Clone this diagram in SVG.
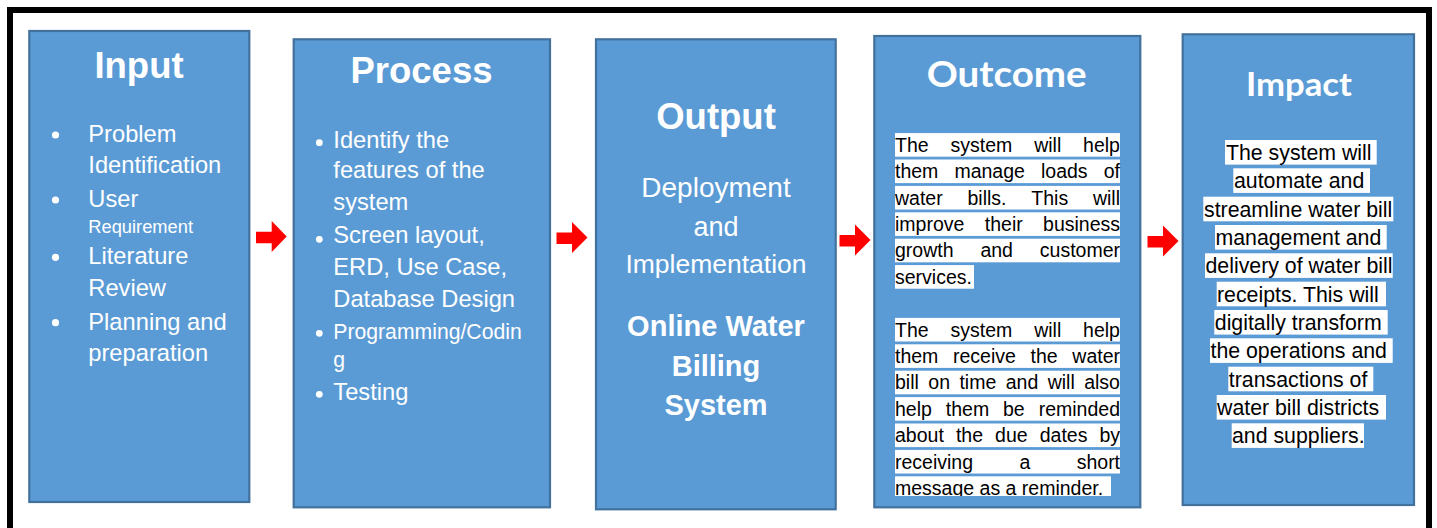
<svg xmlns="http://www.w3.org/2000/svg" width="1437" height="528" viewBox="0 0 1437 528">
<style>
.box{fill:#5b9bd5;stroke:#41719c;stroke-width:2.2}
.t{font-family:"Liberation Sans",Arial,sans-serif;fill:#fff}
.ttl{font-family:"Liberation Sans",Arial,sans-serif;font-weight:bold;font-size:36.5px;fill:#fff;text-anchor:middle}
.ttl2{font-family:Lato,"Open Sans",sans-serif;font-weight:bold;fill:#fff;text-anchor:middle}
.li{font-size:23.7px}
.bul{fill:#fff}
.oc{font-family:"Liberation Sans",Arial,sans-serif;font-size:19.5px;fill:#000}
.im{font-family:"Liberation Sans",Arial,sans-serif;font-size:21.3px;fill:#000}
.hl{fill:#fff}
.arr{fill:#ff0000}
</style>
<defs>
<clipPath id="ocClip"><rect x="880" y="120" width="250" height="376"/></clipPath>
</defs>
<rect x="10" y="10" width="1419" height="600" fill="#fff" stroke="#000" stroke-width="6"/>

<g id="input">
<rect class="box" x="29.3" y="31" width="220" height="471"/>
<text class="ttl" x="139" y="77.7">Input</text>
<circle class="bul" cx="55.5" cy="135" r="3.6"/>
<circle class="bul" cx="55.5" cy="200" r="3.6"/>
<circle class="bul" cx="55.5" cy="257.3" r="3.6"/>
<circle class="bul" cx="55.5" cy="322.7" r="3.6"/>
<text class="t li" x="88.3" y="141.7">Problem</text>
<text class="t li" x="88.3" y="173.3">Identification</text>
<text class="t li" x="88.3" y="206.7">User</text>
<text class="t" font-size="18.3" x="88.3" y="233.3">Requirement</text>
<text class="t li" x="88.3" y="264">Literature</text>
<text class="t li" x="88.3" y="296">Review</text>
<text class="t li" x="88.3" y="330">Planning and</text>
<text class="t li" x="88.3" y="360.7">preparation</text>
</g>

<g id="process">
<rect class="box" x="293.7" y="39.3" width="256.3" height="468"/>
<text class="ttl" x="421.5" y="83.3">Process</text>
<circle class="bul" cx="319.3" cy="142.7" r="3.4"/>
<circle class="bul" cx="319.3" cy="239.3" r="3.4"/>
<circle class="bul" cx="319.3" cy="333.3" r="3.4"/>
<circle class="bul" cx="319.3" cy="394.3" r="3.4"/>
<text class="t li" x="333.3" y="148.3">Identify the</text>
<text class="t li" x="333.3" y="178.3">features of the</text>
<text class="t li" x="333.3" y="210">system</text>
<text class="t li" x="333.3" y="243.3">Screen layout,</text>
<text class="t li" x="333.3" y="275">ERD, Use Case,</text>
<text class="t li" x="333.3" y="306.7">Database Design</text>
<text class="t" font-size="21.2" x="333.3" y="339.3">Programming/Codin</text>
<text class="t" font-size="21.2" x="333.3" y="366.7">g</text>
<text class="t li" x="333.3" y="400">Testing</text>
</g>

<g id="output">
<rect class="box" x="596" y="39.3" width="239.7" height="470"/>
<text class="ttl" x="716" y="129.3">Output</text>
<text class="t" font-size="28" text-anchor="middle" x="716" y="196.7">Deployment</text>
<text class="t" font-size="27" text-anchor="middle" x="716" y="236">and</text>
<text class="t" font-size="26.5" text-anchor="middle" x="716" y="272.7">Implementation</text>
<text class="t" font-size="29" font-weight="bold" text-anchor="middle" x="716" y="336">Online Water</text>
<text class="t" font-size="29" font-weight="bold" text-anchor="middle" x="716" y="376">Billing</text>
<text class="t" font-size="29" font-weight="bold" text-anchor="middle" x="716" y="415">System</text>
</g>

<g id="outcome">
<rect class="box" x="874.3" y="36" width="266" height="471.3"/>
<text class="ttl2" font-size="36" x="1006.7" y="86.7" textLength="160" lengthAdjust="spacingAndGlyphs">Outcome</text>
<g clip-path="url(#ocClip)">
<rect class="hl" x="895" y="133.1" width="225" height="23.6"/>
<rect class="hl" x="895" y="159.5" width="225" height="23.6"/>
<rect class="hl" x="895" y="185.9" width="225" height="23.6"/>
<rect class="hl" x="895" y="212.3" width="225" height="23.6"/>
<rect class="hl" x="895" y="238.7" width="225" height="23.6"/>
<rect class="hl" x="895" y="265.1" width="79" height="23.6"/>
<rect class="hl" x="895" y="317.9" width="225" height="23.6"/>
<rect class="hl" x="895" y="344.3" width="225" height="23.6"/>
<rect class="hl" x="895" y="370.7" width="225" height="23.6"/>
<rect class="hl" x="895" y="397.1" width="225" height="23.6"/>
<rect class="hl" x="895" y="423.5" width="225" height="23.6"/>
<rect class="hl" x="895" y="449.9" width="225" height="23.6"/>
<rect class="hl" x="895" y="476.3" width="216" height="23.6"/>
<text class="oc" y="151.7"><tspan x="895">The</tspan><tspan x="950.5">system</tspan><tspan x="1034.2">will</tspan><tspan x="1083.1">help</tspan></text>
<text class="oc" y="178.1"><tspan x="895">them</tspan><tspan x="954.4">manage</tspan><tspan x="1041">loads</tspan><tspan x="1103.7">of</tspan></text>
<text class="oc" y="204.5"><tspan x="895">water</tspan><tspan x="967.5">bills.</tspan><tspan x="1031.3">This</tspan><tspan x="1092.9">will</tspan></text>
<text class="oc" y="230.9"><tspan x="895">improve</tspan><tspan x="984.8">their</tspan><tspan x="1043.1">business</tspan></text>
<text class="oc" y="257.3"><tspan x="895">growth</tspan><tspan x="980.4">and</tspan><tspan x="1039.8">customer</tspan></text>
<text class="oc" x="895" y="283.7">services.</text>
<text class="oc" y="336.5"><tspan x="895">The</tspan><tspan x="950.5">system</tspan><tspan x="1034.2">will</tspan><tspan x="1083.1">help</tspan></text>
<text class="oc" y="362.9"><tspan x="895">them</tspan><tspan x="953">receive</tspan><tspan x="1030.5">the</tspan><tspan x="1072.3">water</tspan></text>
<text class="oc" y="389.3"><tspan x="895">bill</tspan><tspan x="928.3">on</tspan><tspan x="959.4">time</tspan><tspan x="1005.7">and</tspan><tspan x="1047.7">will</tspan><tspan x="1084.2">also</tspan></text>
<text class="oc" y="415.7"><tspan x="895">help</tspan><tspan x="945.8">them</tspan><tspan x="1003">be</tspan><tspan x="1038.7">reminded</tspan></text>
<text class="oc" y="442.1"><tspan x="895">about</tspan><tspan x="955.9">the</tspan><tspan x="995.1">due</tspan><tspan x="1039.7">dates</tspan><tspan x="1099.4">by</tspan></text>
<text class="oc" y="468.5"><tspan x="895">receiving</tspan><tspan x="1019.5">a</tspan><tspan x="1076.7">short</tspan></text>
<text class="oc" x="895" y="494.9">message as a reminder.</text>
</g>
</g>

<g id="impact">
<rect class="box" x="1182.7" y="34.3" width="231.3" height="470.7"/>
<text class="ttl2" font-size="33" x="1299" y="96" textLength="106" lengthAdjust="spacingAndGlyphs">Impact</text>
<rect class="hl" x="1225" y="140" width="151.7" height="24.6"/>
<rect class="hl" x="1233.3" y="168.3" width="136.7" height="24.6"/>
<rect class="hl" x="1203.3" y="196.7" width="190" height="24.6"/>
<rect class="hl" x="1215" y="225" width="171.7" height="24.6"/>
<rect class="hl" x="1205" y="253.3" width="187.7" height="24.6"/>
<rect class="hl" x="1216.7" y="281.7" width="169.3" height="24.6"/>
<rect class="hl" x="1214.3" y="310" width="173.4" height="24.6"/>
<rect class="hl" x="1210" y="338.3" width="182.7" height="24.6"/>
<rect class="hl" x="1228.3" y="366.7" width="145" height="24.6"/>
<rect class="hl" x="1216.7" y="395" width="169.3" height="24.6"/>
<rect class="hl" x="1231.7" y="423.3" width="132.3" height="24.6"/>
<text class="im" x="1226" y="159.8">The system will</text>
<text class="im" x="1234" y="188.1">automate and</text>
<text class="im" x="1204" y="216.5">streamline water bill</text>
<text class="im" x="1215.5" y="244.8">management and</text>
<text class="im" x="1205.5" y="273.1">delivery of water bill</text>
<text class="im" x="1217" y="301.5">receipts. This will</text>
<text class="im" x="1214.8" y="329.8">digitally transform</text>
<text class="im" x="1210.5" y="358.1">the operations and</text>
<text class="im" x="1228.8" y="386.5">transactions of</text>
<text class="im" x="1217" y="414.8">water bill districts</text>
<text class="im" x="1232" y="443.1">and suppliers.</text>
</g>

<g id="connectors">
<polygon class="arr" points="256,231.7 271.7,231.7 271.7,221 286.7,236.5 271.7,252 271.7,243.3 256,243.3"/>
<polygon class="arr" points="556.5,232.5 572,232.5 572,222 587.5,237.5 572,253 572,244 556.5,244"/>
<polygon class="arr" points="839.5,235 855,235 855,224.5 870.5,240 855,255.5 855,246.5 839.5,246.5"/>
<polygon class="arr" points="1147.5,236 1163,236 1163,225.5 1178.5,241 1163,256.5 1163,247.5 1147.5,247.5"/>
</g>
</svg>
